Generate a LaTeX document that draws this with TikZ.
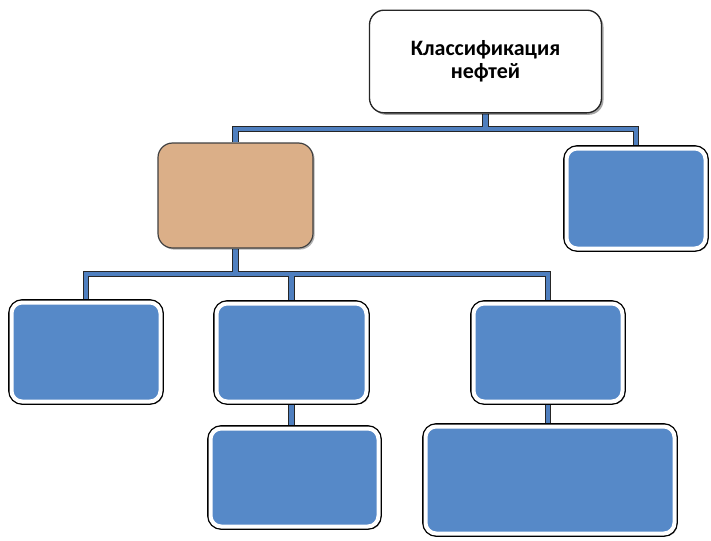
\documentclass[tikz,border=0pt]{standalone}
\usepackage{fontspec}
\setmainfont{Carlito}
\usetikzlibrary{shadows,backgrounds,calc}
\definecolor{boxblue}{HTML}{5689C8}
\definecolor{boxtan}{HTML}{DBAF88}
\definecolor{linkblue}{HTML}{4F7FBF}
\tikzset{
  bluebox/.style={rounded corners=8pt, fill=boxblue, draw=white, line width=3pt,
    preaction={draw=black, line width=5pt},
    drop shadow={shadow xshift=2pt, shadow yshift=-2pt, opacity=0.35, fill=black},
    inner sep=0pt},
  tanbox/.style={rounded corners=11pt, fill=boxtan, draw=black!75, line width=0.9pt,
    drop shadow={shadow xshift=1.2pt, shadow yshift=-1.2pt, opacity=0.3, fill=black},
    inner sep=0pt},
  titlebox/.style={rounded corners=11pt, fill=white, draw=black!85, line width=1pt,
    drop shadow={shadow xshift=1.5pt, shadow yshift=-1.5pt, opacity=0.35, fill=black},
    align=center, font=\bfseries\fontsize{16.5}{17.5}\selectfont, inner sep=0pt},
  connout/.style={draw=black!85, line width=5pt},
  connin/.style={draw=linkblue, line width=3.2pt},
}
\begin{document}
\begin{tikzpicture}[x=0.75pt,y=-0.75pt]
\useasboundingbox (0,0) rectangle (711,540);
% boxes
\node[titlebox, minimum width=174pt, minimum height=77pt] (top) at (485.5,61.5) {Классификация\\нефтей};
\node[tanbox, minimum width=116.25pt, minimum height=78.75pt] (tan) at (235.5,195.5) {};
\node[bluebox, minimum width=104.25pt, minimum height=75pt] (right) at (636,198.5) {};
\node[bluebox, minimum width=111.75pt, minimum height=74.25pt] (b1) at (86,352) {};
\node[bluebox, minimum width=112.5pt, minimum height=73.5pt] (b2) at (291.5,352.5) {};
\node[bluebox, minimum width=111.75pt, minimum height=73.5pt] (b3) at (548,352.5) {};
\node[bluebox, minimum width=126pt, minimum height=73.5pt] (b4) at (294.5,477.5) {};
\node[bluebox, minimum width=186.75pt, minimum height=80.25pt] (b5) at (550,480) {};
\coordinate (h1) at (0,129);
\coordinate (h2) at (0,274);
% connectors
\begin{scope}[on background layer]
\foreach \s in {connout,connin}{
  \draw[\s] (tan.north) |- (h1 -| right.north) -- (right.north);
  \draw[\s] (top.south) -- (top.south |- h1);
  \draw[\s] (b1.north) |- (h2 -| b3.north) -- (b3.north);
  \draw[\s] (tan.south) -- (tan.south |- h2);
  \draw[\s] (b2.north) -- (b2.north |- h2);
  \draw[\s] (b2.south) -- (b2.south |- b4.north);
  \draw[\s] (b3.south) -- (b3.south |- b5.north);
}
\end{scope}
\end{tikzpicture}
\end{document}
